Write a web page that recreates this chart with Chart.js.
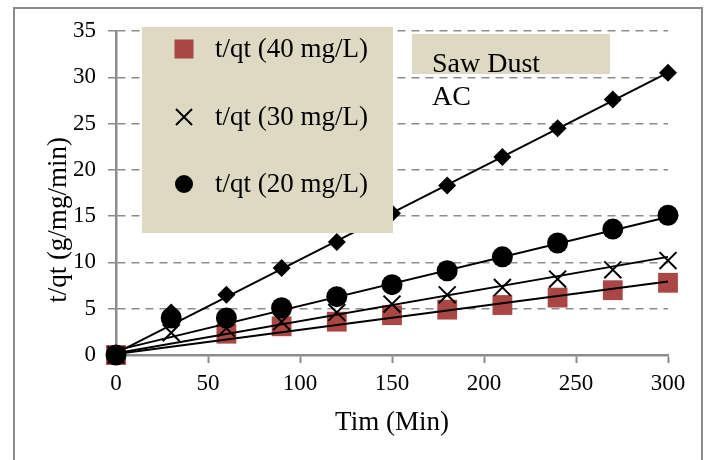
<!DOCTYPE html>
<html>
<head>
<meta charset="utf-8">
<script src="https://cdn.jsdelivr.net/npm/chart.js@4.4.1/dist/chart.umd.min.js"></script>
<style>
  html, body { margin: 0; padding: 0; background: #fff; }
  #wrap { width: 706px; height: 460px; }
</style>
</head>
<body>
<div id="wrap"><canvas id="chart" width="706" height="460"></canvas></div>
<script>
(function () {
  "use strict";

  // time points (min)
  const times = [0, 30, 60, 90, 120, 150, 180, 210, 240, 270, 300];
  // t/qt series
  const conc40 = [0, null, 2.3, 3.1, 3.6, 4.3, 4.9, 5.4, 6.2, 7.0, 7.8];
  const conc30 = [0, 2.4, 2.9, 3.6, 4.6, 5.5, 6.5, 7.3, 8.2, 9.2, 10.2];
  const conc20 = [0, 4.0, 4.0, 5.1, 6.3, 7.6, 9.1, 10.6, 12.1, 13.6, 15.1];
  const sawDust = [0, 4.6, 6.5, 9.4, 12.2, 15.3, 18.3, 21.4, 24.5, 27.6, 30.5];

  // linear trend lines: value at t=0 and t=300
  const trendX = [0, 300];
  const trend40 = [0.1, 7.95];
  const trend30 = [0.2, 10.6];
  const trend20 = [0.5, 14.9];
  const trendSaw = [0.2, 30.5];

  const xTicks = [0, 50, 100, 150, 200, 250, 300];
  const yTicks = [0, 5, 10, 15, 20, 25, 30, 35];

  const legendLabels = ["t/qt (40 mg/L)", "t/qt (30 mg/L)", "t/qt (20 mg/L)"];
  const noteLines = ["Saw Dust", "AC"];
  const yTitle = "t/qt (g/mg/min)";

  const SERIF = "'Liberation Serif', 'Times New Roman', serif";
  const GRAY = "#8c8c8c";
  const TAN = "#ddd9c3";
  const RED = "#aa4644";

  function pts(xs, ys) {
    return xs.map((x, i) => ({ x: x, y: ys[i] }));
  }

  function markerSet(label, ys, style, radius, fill, order) {
    return {
      label: label,
      data: pts(times, ys),
      showLine: false,
      pointStyle: style,
      pointRadius: radius,
      pointHoverRadius: radius,
      pointBackgroundColor: fill,
      pointBorderColor: style === "crossRot" ? "#000" : fill,
      pointBorderWidth: style === "crossRot" ? 2 : 0,
      clip: false,
      order: order
    };
  }

  function trendSet(ys) {
    return {
      data: pts(trendX, ys),
      showLine: true,
      borderColor: "#000",
      borderWidth: 2,
      pointRadius: 0,
      pointHoverRadius: 0,
      clip: false,
      order: 0
    };
  }

  const framePlugin = {
    id: "frame",
    beforeDraw(chart) {
      const ctx = chart.ctx;
      ctx.save();
      ctx.fillStyle = "#fff";
      ctx.fillRect(0, 0, chart.width, chart.height);
      ctx.strokeStyle = GRAY;
      ctx.lineWidth = 2;
      ctx.strokeRect(14, 8, 688, 480);
      ctx.restore();
    }
  };

  const boxesPlugin = {
    id: "boxes",
    afterDraw(chart) {
      const ctx = chart.ctx;
      ctx.save();
      // y axis title, sits a little below the plot's middle
      ctx.save();
      ctx.translate(59, 220);
      ctx.rotate(-Math.PI / 2);
      ctx.font = "27px " + SERIF;
      ctx.fillStyle = "#000";
      ctx.textAlign = "center";
      ctx.textBaseline = "middle";
      ctx.fillText(yTitle, 0, 0);
      ctx.restore();

      // legend box
      ctx.fillStyle = TAN;
      ctx.fillRect(142, 27, 251, 206);
      ctx.font = "27px " + SERIF;
      ctx.textBaseline = "middle";
      ctx.textAlign = "left";
      const rows = [49, 117, 184];
      ctx.fillStyle = RED;
      ctx.fillRect(184 - 9.5, rows[0] - 9.5, 19, 19);
      ctx.strokeStyle = "#000";
      ctx.lineWidth = 2;
      ctx.beginPath();
      ctx.moveTo(176, rows[1] - 8); ctx.lineTo(192, rows[1] + 8);
      ctx.moveTo(192, rows[1] - 8); ctx.lineTo(176, rows[1] + 8);
      ctx.stroke();
      ctx.fillStyle = "#000";
      ctx.beginPath();
      ctx.arc(184, rows[2], 9, 0, Math.PI * 2);
      ctx.fill();
      legendLabels.forEach((t, i) => ctx.fillText(t, 215, rows[i] + 1));

      // note box
      ctx.fillStyle = TAN;
      ctx.fillRect(412, 34, 198, 40);
      ctx.fillStyle = "#000";
      ctx.font = "28px " + SERIF;
      ctx.textBaseline = "alphabetic";
      ctx.fillText(noteLines[0], 432, 72);
      ctx.fillText(noteLines[1], 432, 105);
      ctx.restore();
    }
  };

  new Chart(document.getElementById("chart"), {
    type: "scatter",
    data: {
      datasets: [
        trendSet(trendSaw),
        trendSet(trend20),
        trendSet(trend30),
        trendSet(trend40),
        markerSet(legendLabels[0], conc40, "rect", 14, RED, 4),
        markerSet(legendLabels[1], conc30, "crossRot", 12, "#000", 3),
        markerSet(legendLabels[2], conc20, "circle", 10.5, "#000", 2),
        markerSet("Saw Dust", sawDust, "rectRot", 9, "#000", 1)
      ]
    },
    options: {
      responsive: false,
      devicePixelRatio: 1,
      animation: false,
      events: [],
      layout: { padding: { left: 0, right: 38, top: 31, bottom: 0 } },
      plugins: {
        legend: { display: false },
        tooltip: { enabled: false }
      },
      scales: {
        x: {
          type: "linear",
          position: "bottom",
          min: 0,
          max: 300,
          afterBuildTicks: (s) => { s.ticks = xTicks.map((v) => ({ value: v })); },
          afterFit: (s) => { s.height = 105; },
          grid: {
            drawOnChartArea: false,
            drawTicks: true,
            tickLength: 8,
            tickColor: GRAY,
            tickWidth: 2
          },
          border: { color: GRAY, width: 2.5 },
          ticks: {
            padding: 7,
            color: "#000",
            font: { family: SERIF, size: 23 }
          },
          title: {
            display: true,
            text: "Tim (Min)",
            color: "#000",
            font: { family: SERIF, size: 27 },
            padding: { top: 0, bottom: 21 }
          }
        },
        y: {
          type: "linear",
          min: 0,
          max: 35,
          afterBuildTicks: (s) => { s.ticks = yTicks.map((v) => ({ value: v })); },
          afterFit: (s) => { s.width = 116; },
          grid: {
            color: GRAY,
            lineWidth: 1.5,
            tickLength: 8,
            tickColor: GRAY,
            tickWidth: 1.5
          },
          border: { color: GRAY, width: 2.5, dash: [8, 6] },
          ticks: {
            padding: 12,
            color: "#000",
            font: { family: SERIF, size: 23 }
          },
          title: { display: false }
        }
      }
    },
    plugins: [framePlugin, boxesPlugin]
  });
})();
</script>
</body>
</html>
